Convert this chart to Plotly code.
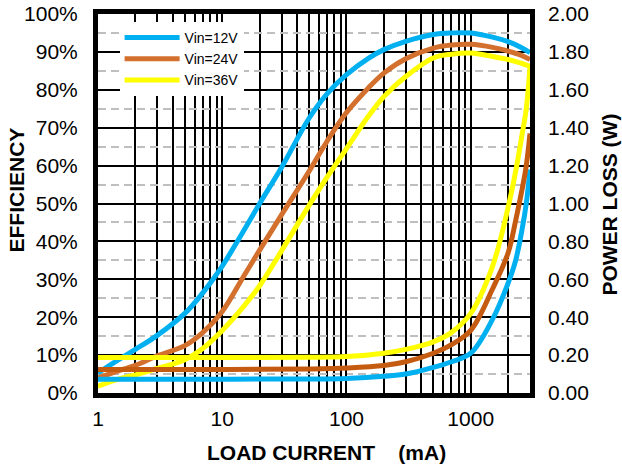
import plotly.graph_objects as go

# ---- data ----
current_eff = [1, 1.5, 2, 3, 5, 7, 10, 15, 20, 30, 50, 70, 100, 150, 200, 300, 500, 700, 1000, 1500, 2000, 2500, 3000]
eff_12v = [5.3, 9, 11.5, 15.2, 21, 26.5, 33.5, 43, 50, 59.5, 72.5, 79, 84, 88.3, 90.6, 92.8, 94.6, 95.0, 95.0, 93.9, 92.7, 91.3, 89.8]
eff_24v = [4, 6, 7.3, 9.8, 12.5, 16, 21.5, 31, 37.7, 47, 58.5, 66.5, 74, 80.5, 84.4, 88.2, 91, 91.8, 92, 91.2, 90.2, 89.2, 88]
eff_36v = [1.8, 3.8, 4.8, 6.5, 8.8, 11.8, 16.5, 23, 28.3, 37.5, 49.5, 57, 64.5, 73, 78.2, 83.5, 88.4, 89.4, 89.7, 88.8, 88, 87.1, 86.2]

current_loss = [1, 10, 50, 100, 200, 300, 500, 700, 1000, 1500, 2000, 2300, 2600, 2800, 3000]
loss_12v = [0.073, 0.073, 0.074, 0.077, 0.088, 0.10, 0.135, 0.165, 0.21, 0.39, 0.58, 0.70, 0.87, 1.00, 1.18]
loss_24v = [0.124, 0.124, 0.127, 0.132, 0.145, 0.165, 0.21, 0.255, 0.33, 0.55, 0.74, 0.91, 1.08, 1.20, 1.37]
loss_36v = [0.187, 0.187, 0.188, 0.192, 0.21, 0.23, 0.27, 0.32, 0.42, 0.67, 0.98, 1.17, 1.37, 1.50, 1.72]

series_names = ["Vin=12V", "Vin=24V", "Vin=36V"]
x_tick_vals = [1, 10, 100, 1000]
x_tick_text = ["1", "10", "100", "1000"]

eff_colors = ["#00B0F0", "#D3702D", "#FFFF00"]
loss_colors = ["#00B0F0", "#C55A11", "#FFFF00"]

FONT = "Arial, Liberation Sans, sans-serif"

fig = go.Figure()
for name, ys, c in zip(series_names, [eff_12v, eff_24v, eff_36v], eff_colors):
    fig.add_trace(go.Scatter(x=current_eff, y=ys, name=name, mode="lines",
                             line=dict(color=c, width=5, shape="spline", smoothing=1.0),
                             yaxis="y"))
for name, ys, c in zip(series_names, [loss_12v, loss_24v, loss_36v], loss_colors):
    fig.add_trace(go.Scatter(x=current_loss, y=ys, name=name, mode="lines",
                             line=dict(color=c, width=5, shape="spline", smoothing=1.0),
                             yaxis="y2", showlegend=False))

title_font = dict(size=21, family=FONT, color="black", weight="bold")

fig.update_layout(
    width=622, height=470,
    margin=dict(l=98, r=92, t=14, b=77, autoexpand=False),
    paper_bgcolor="white", plot_bgcolor="white",
    font=dict(family=FONT, size=21, color="black"),
    showlegend=True,
    legend=dict(x=0.05, y=0.979, xanchor="left", yanchor="top",
                bgcolor="white", borderwidth=0,
                font=dict(family=FONT, size=14, color="black"),
                itemwidth=55, tracegroupgap=0),
    xaxis=dict(type="log", range=[0, 3.4771],
               tickvals=x_tick_vals, ticktext=x_tick_text,
               showgrid=True, gridcolor="black", gridwidth=2,
               minor=dict(dtick="D1", showgrid=True, gridcolor="black", gridwidth=2, ticks=""),
               showline=True, linecolor="black", linewidth=5, mirror=True,
               ticks="", zeroline=False, ticklabelstandoff=3,
               tickfont=dict(size=21)),
    yaxis=dict(range=[0, 100], dtick=10, ticksuffix="%",
               showgrid=True, gridcolor="black", gridwidth=2,
               minor=dict(dtick=5, showgrid=True, gridcolor="#BFBFBF", gridwidth=1.5, griddash="8px,5px", ticks=""),
               showline=True, linecolor="black", linewidth=5, mirror=True,
               ticks="", zeroline=False, ticklabelstandoff=11,
               tickfont=dict(size=21)),
    yaxis2=dict(range=[0, 2], dtick=0.2, tickformat=".2f", overlaying="y", side="right",
                showgrid=False, zeroline=False, ticks="", showline=False,
                ticklabelstandoff=17,
                tickfont=dict(size=21)),
    annotations=[
        dict(text="LOAD CURRENT\u00a0\u00a0\u00a0\u00a0(mA)", xref="paper", yref="paper",
             x=0.530, y=-0.1557, xanchor="center", yanchor="middle",
             showarrow=False, font=title_font),
        dict(text="EFFICIENCY", xref="paper", yref="paper",
             x=-0.1887, y=0.5356, xanchor="center", yanchor="middle", textangle=-90,
             showarrow=False, font=title_font),
        dict(text="POWER LOSS (W)", xref="paper", yref="paper",
             x=1.185, y=0.497, xanchor="center", yanchor="middle", textangle=-90,
             showarrow=False, font=title_font),
    ],
)

fig.write_html("out.html", config={"displayModeBar": False},
               post_script="document.body.style.margin='0';")
